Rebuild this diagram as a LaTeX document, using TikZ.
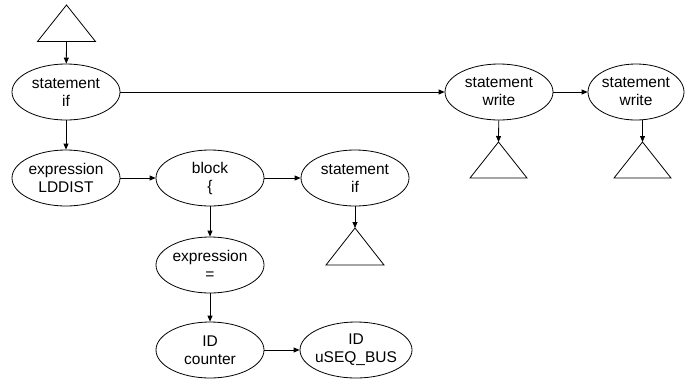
\documentclass[tikz,border=0pt]{standalone}
\usepackage{fontspec}
\setmainfont{Liberation Sans}
\usetikzlibrary{shapes.geometric,arrows.meta}

\tikzset{
  treenode/.style={draw, ellipse, line width=0.8pt, inner xsep=-6pt, inner ysep=0pt,
    minimum width=108pt, minimum height=56pt, align=center,
    font=\fontsize{15.5}{18}\selectfont},
  link/.style={line width=0.8pt, -{Triangle[length=6pt,width=5pt]}},
  subtree/.style={draw, line width=0.8pt, line join=miter}
}

\begin{document}
\begin{tikzpicture}[x=1pt, y=-1pt]
  \useasboundingbox (0,0) rectangle (687,381);

  % syntax tree nodes
  \node[treenode] (s1)  at (66,92)   {statement\\if};
  \node[treenode] (e1)  at (66,178)  {expression\\LDDIST};
  \node[treenode] (b)   at (210,178) {block\\\{};
  \node[treenode] (s2)  at (355,178) {statement\\if};
  \node[treenode] (e2)  at (210,265) {expression\\=};
  \node[treenode] (id1) at (210,350) {ID\\counter};
  \node[treenode, minimum width=112pt] (id2) at (356,350) {ID\\uSEQ\_BUS};
  \node[treenode] (w1)  at (499,92)  {statement\\write};
  \node[treenode, minimum width=96pt] (w2) at (636,92) {statement\\write};

  % collapsed subtrees (apex coordinates)
  \coordinate (t0) at (66.5,5);
  \coordinate (t0b) at (66.5,41.5);
  \coordinate (t2) at (355,228);
  \coordinate (t3) at (498.5,142);
  \coordinate (t4) at (642.5,142);
  \draw[subtree] (t0) -- ++(29,36.5) -- ++(-58,0) -- cycle;
  \draw[subtree] (t2) -- ++(29,37) -- ++(-58,0) -- cycle;
  \draw[subtree] (t3) -- ++(28.5,36) -- ++(-57,0) -- cycle;
  \draw[subtree] (t4) -- ++(28.5,36) -- ++(-57,0) -- cycle;

  % edges
  \draw[link] (t0b) -- (s1);
  \draw[link] (s1) -- (e1);
  \draw[link] (s1) -- (w1);
  \draw[link] (w1) -- (w2);
  \draw[link] (e1) -- (b);
  \draw[link] (b) -- (s2);
  \draw[link] (b) -- (e2);
  \draw[link] (e2) -- (id1);
  \draw[link] (id1) -- (id2);
  \draw[link] (s2) -- (t2);
  \draw[link] (w1) -- (t3);
  \draw[link] (t4 |- w2.south) -- (t4);
\end{tikzpicture}
\end{document}
